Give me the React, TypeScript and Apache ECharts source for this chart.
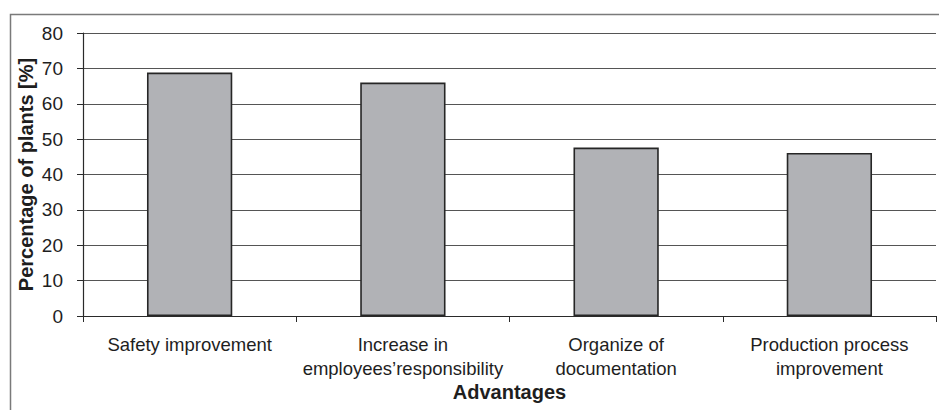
import React, { useEffect, useRef } from "react";
import * as echarts from "echarts";

const categories = [
  "Safety improvement",
  "Increase in\nemployees\u2019responsibility",
  "Organize of\ndocumentation",
  "Production process\nimprovement",
];
const percentages = [68.8, 66.0, 47.6, 46.1];
const yTicks = { min: 0, max: 80, interval: 10 };

const FONT = "'Liberation Sans', Arial, Helvetica, sans-serif";
const INK = "#1e1e1e";

export default function App() {
  const ref = useRef<HTMLDivElement>(null);

  useEffect(() => {
    document.body.style.margin = "0";
    const chart = echarts.init(ref.current!, null, { renderer: "svg" });
    chart.setOption({
      animation: false,
      backgroundColor: "#ffffff",
      textStyle: { fontFamily: FONT, color: INK },
      grid: { left: 83, right: 3, top: 33, bottom: 94 },
      graphic: [
        {
          type: "polyline",
          silent: true,
          shape: { points: [[10.5, 420], [10.5, 14.5], [945, 14.5]] },
          style: { stroke: "#7a7a7a", lineWidth: 1.5, fill: null },
        },
      ],
      xAxis: {
        type: "category",
        data: categories,
        boundaryGap: true,
        name: "Advantages",
        nameLocation: "middle",
        nameGap: 66,
        nameMoveOverlap: false,
        nameTextStyle: { fontFamily: FONT, fontSize: 20, fontWeight: "bold", color: INK },
        axisLine: { show: true, lineStyle: { color: "#2a2a2a", width: 1.2 } },
        axisTick: { show: true, length: 6, alignWithLabel: false, lineStyle: { color: "#2a2a2a" } },
        axisLabel: {
          interval: 0,
          margin: 16,
          fontFamily: FONT,
          fontSize: 18.5,
          lineHeight: 24,
          color: INK,
          align: "center",
        },
      },
      yAxis: {
        type: "value",
        min: yTicks.min,
        max: yTicks.max,
        interval: yTicks.interval,
        name: "Percentage of plants [%]",
        nameLocation: "middle",
        nameGap: 47,
        nameMoveOverlap: false,
        nameRotate: 90,
        nameTextStyle: { fontFamily: FONT, fontSize: 20, fontWeight: "bold", color: INK },
        axisLine: { show: true, lineStyle: { color: "#2a2a2a", width: 1.2 } },
        axisTick: { show: true, length: 6, lineStyle: { color: "#2a2a2a" } },
        axisLabel: { margin: 20, fontFamily: FONT, fontSize: 19, color: INK },
        splitLine: { show: true, lineStyle: { color: "#555555", width: 1.2 } },
      },
      series: [
        {
          type: "bar",
          data: percentages,
          barWidth: "40%",
          itemStyle: { color: "#b1b2b6", borderColor: "#262626", borderWidth: 1.6 },
        },
      ],
    });
    return () => chart.dispose();
  }, []);

  return <div ref={ref} style={{ width: 939, height: 410 }} />;
}
